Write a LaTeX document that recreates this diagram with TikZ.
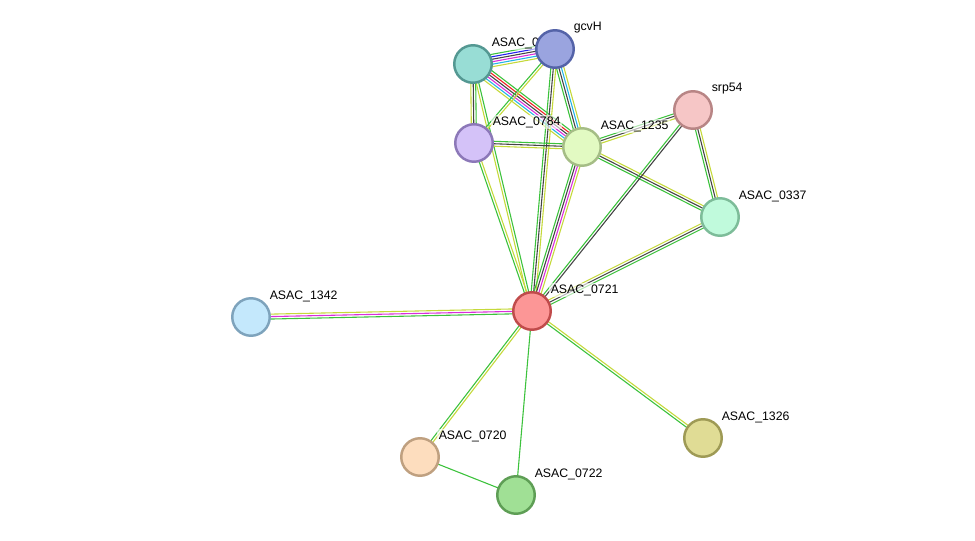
\documentclass[tikz,border=0pt]{standalone}
\usepackage{fontspec}
\setmainfont{Liberation Sans}
\usetikzlibrary{calc}
\usepackage{xcolor}
% evidence channel colours
\definecolor{lkgreen}{HTML}{3CC23C}
\definecolor{lkyellow}{HTML}{C5D93A}
\definecolor{lkblack}{HTML}{444444}
\definecolor{lkmagenta}{HTML}{DA2EDA}
\definecolor{lkcyan}{HTML}{25B4E6}
\definecolor{lkblue}{HTML}{2222EE}
\definecolor{lkred}{HTML}{EE2222}
\pgfdeclarelayer{edges}
\pgfdeclarelayer{labels}
\pgfsetlayers{edges,labels,main}
\tikzset{
  ppnode/.style={circle, minimum size=0.75cm, inner sep=0pt, line width=1.4pt},
  pplabel/.style={anchor=west, inner sep=0.8pt, font=\fontsize{7}{8}\selectfont,
    fill=white, fill opacity=0.6, text opacity=1},
  ppline/.style={line width=0.62pt},
}
% #1 from, #2 to, #3 number of lines, #4 colours
\newcommand{\pplink}[4]{%
  \foreach \lc [count=\li] in {#4} {
    \pgfmathsetmacro{\lo}{(\li-(#3+1)/2)*1.4}
    \draw[ppline, draw=\lc] ($(#1.center)!\lo pt!90:(#2.center)$) -- ($(#2.center)!\lo pt!-90:(#1.center)$);
  }}

\begin{document}
\begin{tikzpicture}[x=0.02cm, y=-0.02cm]
  \useasboundingbox (0,0) rectangle (975,541);

  \node[ppnode, fill={rgb,255:red,152;green,221;blue,213}, draw={rgb,255:red,84;green,152;blue,146}] (n0x) at (473,64) {};
  \node[ppnode, fill={rgb,255:red,154;green,164;blue,223}, draw={rgb,255:red,84;green,99;blue,168}] (gcvh) at (555,49) {};
  \node[ppnode, fill={rgb,255:red,246;green,198;blue,198}, draw={rgb,255:red,184;green,133;blue,133}] (srp) at (693,110) {};
  \node[ppnode, fill={rgb,255:red,212;green,194;blue,248}, draw={rgb,255:red,140;green,120;blue,184}] (n0784) at (474,143) {};
  \node[ppnode, fill={rgb,255:red,226;green,250;blue,194}, draw={rgb,255:red,165;green,189;blue,134}] (n1235) at (582,147) {};
  \node[ppnode, fill={rgb,255:red,192;green,250;blue,220}, draw={rgb,255:red,125;green,188;blue,153}] (n0337) at (720,217) {};
  \node[ppnode, fill={rgb,255:red,252;green,150;blue,150}, draw={rgb,255:red,192;green,75;blue,75}] (n0721) at (532,311) {};
  \node[ppnode, fill={rgb,255:red,196;green,232;blue,252}, draw={rgb,255:red,126;green,163;blue,188}] (n1342) at (251,317) {};
  \node[ppnode, fill={rgb,255:red,253;green,221;blue,190}, draw={rgb,255:red,191;green,160;blue,128}] (n0720) at (420,457) {};
  \node[ppnode, fill={rgb,255:red,160;green,224;blue,149}, draw={rgb,255:red,94;green,158;blue,85}] (n0722) at (516,495) {};
  \node[ppnode, fill={rgb,255:red,224;green,220;blue,149}, draw={rgb,255:red,158;green,154;blue,85}] (n1326) at (703,438) {};

  \begin{pgfonlayer}{labels}
    \node[pplabel] (l0x) at ($(n0x)+(17,-21)$) {ASAC\_0};
    \node[pplabel] (lgcvh) at ($(gcvh)+(17,-21)$) {gcvH};
    \node[pplabel] (lsrp) at ($(srp)+(17,-21)$) {srp54};
    \node[pplabel] (l0784) at ($(n0784)+(17,-21)$) {ASAC\_0784};
    \node[pplabel] (l1235) at ($(n1235)+(17,-21)$) {ASAC\_1235};
    \node[pplabel] (l0337) at ($(n0337)+(17,-21)$) {ASAC\_0337};
    \node[pplabel] (l0721) at ($(n0721)+(17,-21)$) {ASAC\_0721};
    \node[pplabel] (l1342) at ($(n1342)+(17,-21)$) {ASAC\_1342};
    \node[pplabel] (l0720) at ($(n0720)+(17,-21)$) {ASAC\_0720};
    \node[pplabel] (l0722) at ($(n0722)+(17,-21)$) {ASAC\_0722};
    \node[pplabel] (l1326) at ($(n1326)+(17,-21)$) {ASAC\_1326};
  \end{pgfonlayer}

  \begin{pgfonlayer}{edges}
    \pplink{n0x}{gcvh}{6}{lkyellow,lkcyan,lkmagenta,lkblack,lkblue,lkgreen}
    \pplink{n0x}{n1235}{6}{lkyellow,lkcyan,lkmagenta,lkblack,lkred,lkgreen}
    \pplink{n0x}{n0784}{3}{lkyellow,lkblack,lkgreen}
    \pplink{n0x}{n0721}{2}{lkyellow,lkgreen}
    \pplink{gcvh}{n0784}{2}{lkgreen,lkyellow}
    \pplink{gcvh}{n1235}{4}{lkgreen,lkblack,lkcyan,lkyellow}
    \pplink{gcvh}{n0721}{3}{lkgreen,lkblack,lkyellow}
    \pplink{n0784}{n1235}{3}{lkyellow,lkblack,lkgreen}
    \pplink{n0784}{n0721}{2}{lkgreen,lkyellow}
    \pplink{n1235}{srp}{3}{lkyellow,lkblack,lkgreen}
    \pplink{n1235}{n0337}{3}{lkgreen,lkblack,lkyellow}
    \pplink{n1235}{n0721}{4}{lkgreen,lkblack,lkmagenta,lkyellow}
    \pplink{srp}{n0337}{3}{lkgreen,lkblack,lkyellow}
    \pplink{srp}{n0721}{2}{lkgreen,lkblack}
    \pplink{n0337}{n0721}{3}{lkyellow,lkblack,lkgreen}
    \pplink{n1342}{n0721}{3}{lkgreen,lkmagenta,lkyellow}
    \pplink{n0720}{n0721}{2}{lkyellow,lkgreen}
    \pplink{n1326}{n0721}{2}{lkyellow,lkgreen}
    \draw[ppline, lkgreen] (n0722.center) -- (n0721.center);
    \draw[ppline, lkgreen] (n0720.center) -- (n0722.center);
  \end{pgfonlayer}
\end{tikzpicture}
\end{document}
